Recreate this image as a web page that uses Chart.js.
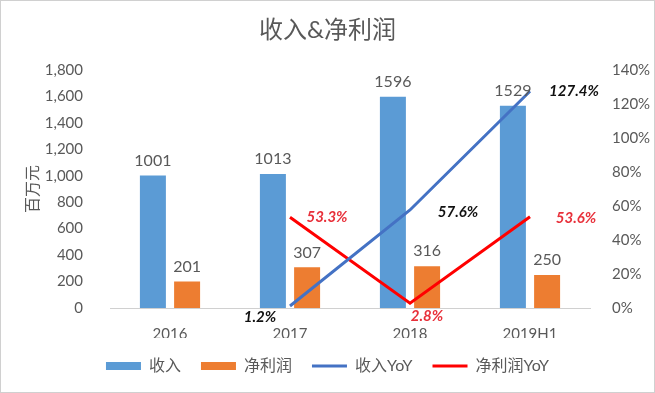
<!DOCTYPE html>
<html lang="zh">
<head>
<meta charset="UTF-8">
<title>收入&净利润</title>
<script src="https://cdn.jsdelivr.net/npm/chart.js"></script>
<style>
html,body{margin:0;padding:0;background:#fff;}
#wrap{width:655px;height:393px;position:relative;}
</style>
</head>
<body>
<div id="wrap"><canvas id="chart"></canvas></div>
<script>
// data
const categories = ['2016', '2017', '2018', '2019H1'];
const revenue = [1001, 1013, 1596, 1529];
const netProfit = [201, 307, 316, 250];
const revenueYoY = [null, 1.2, 57.6, 127.4];
const profitYoY = [null, 53.3, 2.8, 53.6];

// label offsets (px) for the YoY labels, relative to each point
const revenueYoYOffsets = [null, [-30, 11], [48, 2], [44, 0]];
const profitYoYOffsets = [null, [37, 0], [17, 13], [46, 1]];

const FONT = "Lato, 'Noto Sans CJK SC', sans-serif";
const GRAY = '#595959';

const labelPlugin = {
  id: 'valueLabels',
  beforeDraw(chart) {
    const c = chart.ctx;
    c.save();
    c.fillStyle = '#fff';
    c.fillRect(0, 0, chart.width, chart.height);
    c.strokeStyle = '#d0d0d0';
    c.lineWidth = 1;
    c.strokeRect(0.5, 0.5, chart.width - 1, chart.height - 1);
    c.restore();
  },
  afterDatasetsDraw(chart) {
    const c = chart.ctx;
    c.save();
    c.textAlign = 'center';
    c.textBaseline = 'middle';
    chart.data.datasets.forEach((ds, i) => {
      const meta = chart.getDatasetMeta(i);
      meta.data.forEach((el, j) => {
        const v = ds.data[j];
        if (v == null) return;
        if (ds.type === 'bar') {
          c.font = '16px ' + FONT;
          c.fillStyle = GRAY;
          c.fillText(String(v), el.x, el.y - 15);
        } else {
          const off = ds.labelOffsets[j];
          c.font = 'italic bold 15px ' + FONT;
          c.fillStyle = ds.labelColor;
          c.fillText(v.toFixed(1) + '%', el.x + off[0], el.y + off[1]);
        }
      });
    });
    c.restore();
  }
};

new Chart(document.getElementById('chart'), {
  data: {
    labels: categories,
    datasets: [
      {type: 'bar', label: '收入', data: revenue, backgroundColor: '#5B9BD5', yAxisID: 'y', order: 2,
       categoryPercentage: 0.57, barPercentage: 0.76},
      {type: 'bar', label: '净利润', data: netProfit, backgroundColor: '#ED7D31', yAxisID: 'y', order: 2,
       categoryPercentage: 0.57, barPercentage: 0.76},
      {type: 'line', label: '收入YoY', data: revenueYoY, borderColor: '#4472C4', backgroundColor: '#4472C4',
       borderWidth: 3, pointRadius: 0, yAxisID: 'y1', order: 1, labelColor: '#111', labelOffsets: revenueYoYOffsets},
      {type: 'line', label: '净利润YoY', data: profitYoY, borderColor: '#FF0000', backgroundColor: '#FF0000',
       borderWidth: 3, pointRadius: 0, yAxisID: 'y1', order: 1, labelColor: '#E8303A', labelOffsets: profitYoYOffsets}
    ]
  },
  options: {
    responsive: true,
    maintainAspectRatio: false,
    animation: false,
    layout: {padding: {top: 0, bottom: 9, left: 0, right: 0}},
    plugins: {
      tooltip: {enabled: false},
      title: {
        display: true, text: '收入&净利润', color: GRAY,
        font: {family: FONT, size: 24, weight: 'normal'},
        padding: {top: 16, bottom: 25}
      },
      legend: {
        position: 'bottom',
        labels: {
          color: GRAY, font: {family: FONT, size: 16}, padding: 20,
          usePointStyle: true, pointStyleWidth: 35, boxHeight: 8,
          generateLabels(chart) {
            return chart.data.datasets.map((ds, i) => ({
              text: ds.label,
              fillStyle: ds.backgroundColor,
              strokeStyle: ds.type === 'line' ? ds.borderColor : ds.backgroundColor,
              lineWidth: ds.type === 'line' ? 3 : 0,
              pointStyle: ds.type === 'line' ? 'line' : 'rect',
              fontColor: GRAY,
              hidden: false,
              datasetIndex: i
            }));
          }
        }
      }
    },
    scales: {
      x: {
        grid: {display: false},
        border: {display: true, color: '#d0d0d0'},
        ticks: {color: GRAY, font: {family: FONT, size: 15}, padding: 9},
        afterFit(s) { s.height = 30; }
      },
      y: {
        position: 'left', min: 0, max: 1800,
        grid: {display: false},
        border: {display: false},
        ticks: {stepSize: 200, color: GRAY, font: {family: FONT, size: 15}, padding: 19,
                callback: v => v.toLocaleString('en-US')},
        title: {display: true, text: '百万元', color: GRAY, font: {family: FONT, size: 16},
                padding: {top: 23, bottom: 0}},
        afterFit(s) { s.width = 110; }
      },
      y1: {
        position: 'right', min: 0, max: 140,
        grid: {display: false},
        border: {display: false},
        ticks: {stepSize: 20, color: GRAY, font: {family: FONT, size: 15}, padding: 14,
                callback: v => v + '%'},
        afterFit(s) { s.width = 65; }
      }
    }
  },
  plugins: [labelPlugin]
});
</script>
</body>
</html>
